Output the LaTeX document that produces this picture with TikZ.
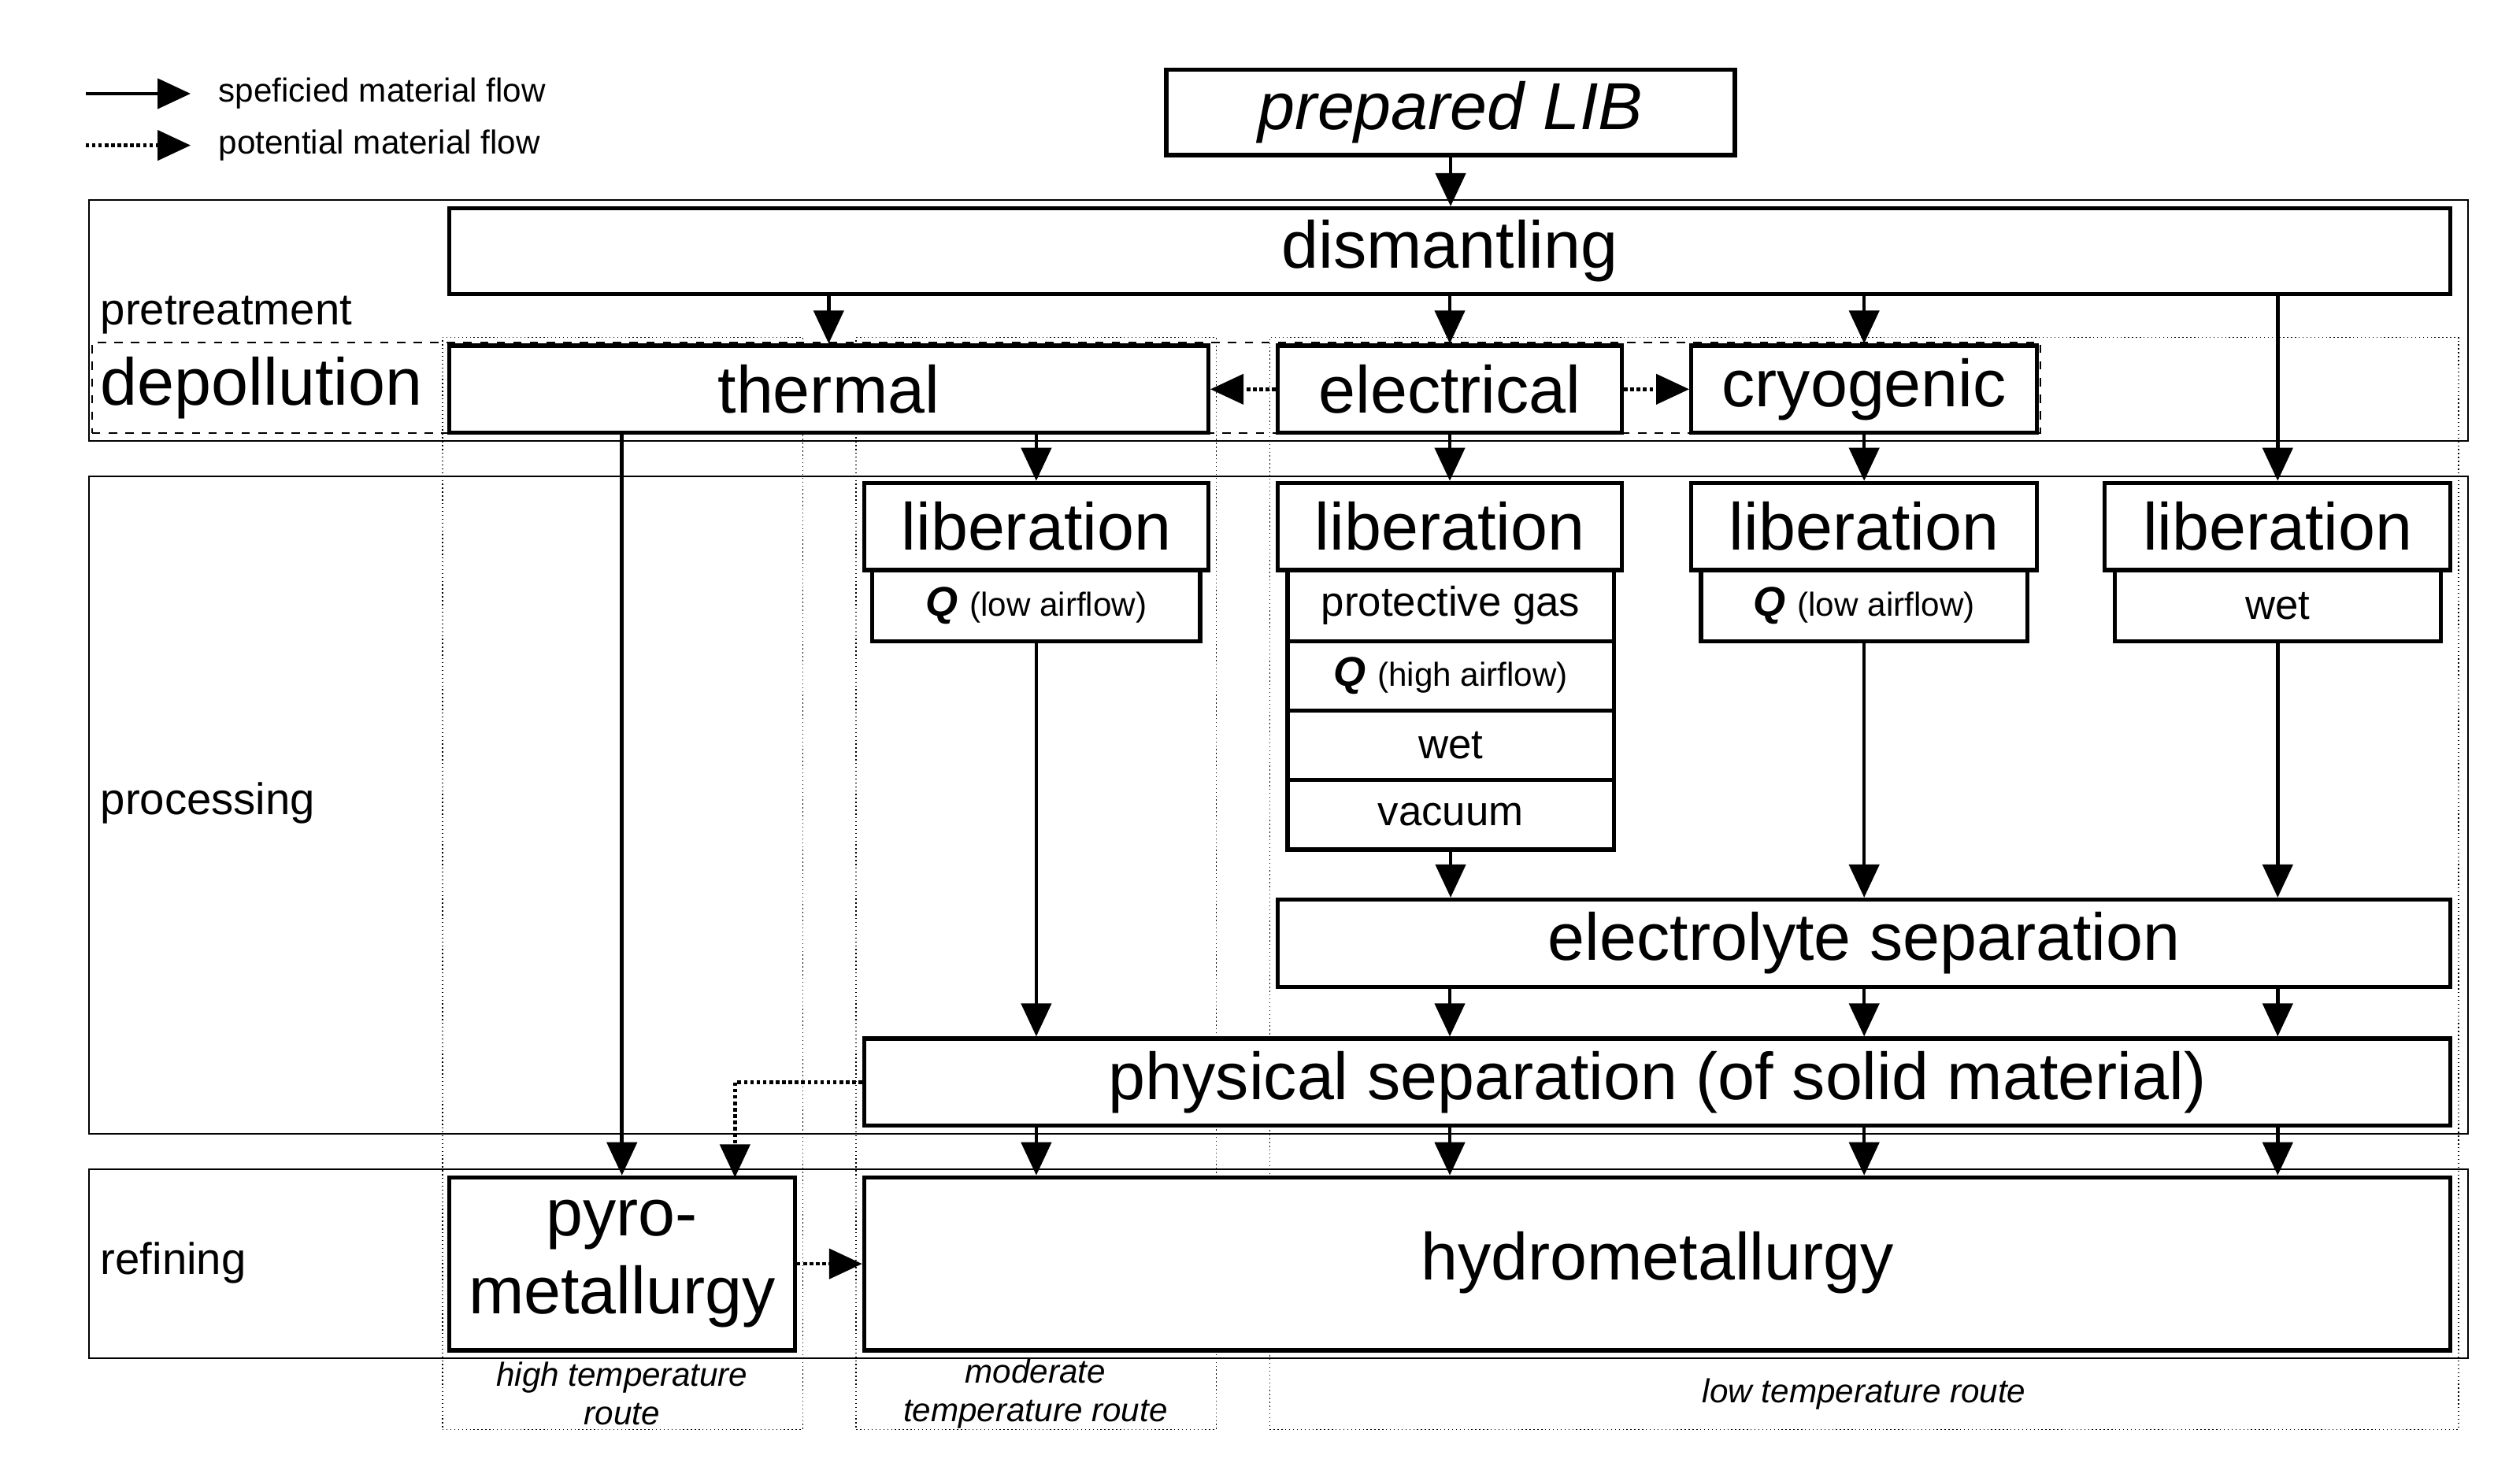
\documentclass[tikz,border=0pt]{standalone}
\usepackage{fontspec}
\setmainfont{Liberation Sans}
\usetikzlibrary{arrows.meta}
\begin{document}
\begin{tikzpicture}[x=0.0205cm,y=-0.0205cm,
  box/.style={draw,line width=1.5pt,fill=white,inner sep=0pt,font=\fontsize{24}{26}\selectfont},
  sub/.style={box,font=\fontsize{15}{17}\selectfont},
  region/.style={draw,line width=0.6pt,inner sep=0pt},
  route/.style={draw,densely dotted,line width=0.4pt,inner sep=0pt},
  lbl/.style={anchor=west,inner sep=0pt,font=\fontsize{16}{18}\selectfont},
  rlbl/.style={inner sep=0pt,align=center,font=\fontsize{12}{14}\selectfont\itshape},
  arr/.style={line width=1.3pt,-{Triangle[length=0.42cm,width=0.38cm]}},
  parr/.style={arr,densely dotted}]
\newcommand\mybox[7]{\node[#2,minimum width={(#5-#3)*0.0205cm},minimum height={(#6-#4)*0.0205cm}] (#1) at ({(#3+#5)/2},{(#4+#6)/2}) {#7};}
\useasboundingbox (0,0) rectangle (1560,903);
% regions
\mybox{pre}{region}{55}{124}{1528}{273}{}
\mybox{proc}{region}{55}{295}{1528}{702}{}
\mybox{ref}{region}{55}{724}{1528}{841}{}
\mybox{dep}{region,dashed}{57}{212}{1263}{268}{}
\mybox{rHigh}{route}{274}{209}{497}{885}{}
\mybox{rMod}{route}{530}{209}{753}{885}{}
\mybox{rLow}{route}{786}{209}{1522}{885}{}
\node[lbl] (tPre) at (62,195) {pretreatment};
\node[lbl,font=\fontsize{24}{26}\selectfont] (tDep) at (62,240) {depollution};
\node[lbl] (tProc) at (62,497) {processing};
\node[lbl] (tRef) at (62,782) {refining};
\node[rlbl] (lHigh) at (385,863) {high temperature\\route};
\node[rlbl] (lMod) at (641,863) {moderate\\temperature route};
\node[rlbl] (lLow) at (1154,863) {low temperature route};
% legend
\coordinate (l1a) at (53,58); \coordinate (l1b) at (118,58);
\coordinate (l2a) at (53,90); \coordinate (l2b) at (118,90);
\draw[arr] (l1a) -- (l1b);
\draw[parr] (l2a) -- (l2b);
\node[anchor=west,inner sep=0pt,font=\fontsize{12}{14}\selectfont] (leg1) at (135,58) {speficied material flow};
\node[anchor=west,inner sep=0pt,font=\fontsize{12}{14}\selectfont] (leg2) at (135,90) {potential material flow};
% boxes
\mybox{lib}{box,font=\fontsize{24}{26}\selectfont\itshape}{722}{43}{1074}{96}{prepared LIB}
\mybox{dism}{box}{278}{129}{1517}{182}{dismantling}
\mybox{therm}{box}{278}{214}{748}{268}{thermal}
\mybox{elec}{box}{791}{214}{1004}{268}{electrical}
\mybox{cryo}{box}{1047}{214}{1261}{268}{cryogenic}
\mybox{lib1}{box}{535}{299}{748}{353}{liberation}
\mybox{lib1q}{sub}{540}{353}{743}{397}{\textbf{\itshape Q} {\fontsize{12}{14}\selectfont(low airflow)}}
\mybox{lib2}{box}{791}{299}{1004}{353}{liberation}
\mybox{lib2a}{sub}{797}{353}{999}{397}{protective gas}
\mybox{lib2b}{sub}{797}{397}{999}{440}{\textbf{\itshape Q} {\fontsize{12}{14}\selectfont(high airflow)}}
\mybox{lib2c}{sub}{797}{440}{999}{483}{wet}
\mybox{lib2d}{sub}{797}{483}{999}{526}{vacuum}
\mybox{lib3}{box}{1047}{299}{1261}{353}{liberation}
\mybox{lib3q}{sub}{1053}{353}{1255}{397}{\textbf{\itshape Q} {\fontsize{12}{14}\selectfont(low airflow)}}
\mybox{lib4}{box}{1303}{299}{1517}{353}{liberation}
\mybox{lib4w}{sub}{1309}{353}{1511}{397}{wet}
\mybox{elsep}{box}{791}{557}{1517}{611}{electrolyte separation}
\mybox{phys}{box}{535}{643}{1517}{697}{physical separation (of solid material)}
\mybox{pyro}{box,align=center,font=\fontsize{24}{28}\selectfont}{278}{729}{492}{836}{pyro-\\metallurgy}
\mybox{hydro}{box}{535}{729}{1517}{836}{}
\node[font=\fontsize{24}{26}\selectfont,inner sep=0pt] (hydroT) at (1026,782) {hydrometallurgy};
% arrows
\draw[arr] (lib.south) -- (dism.north -| lib.south);
\draw[arr] (dism.south -| therm.north) -- (therm.north);
\draw[arr] (dism.south -| elec.north) -- (elec.north);
\draw[arr] (dism.south -| cryo.north) -- (cryo.north);
\draw[arr] (dism.south -| lib4.north) -- (lib4.north);
\draw[parr] (elec.west) -- (therm.east);
\draw[parr] (elec.east) -- (cryo.west);
\draw[arr] (therm.south -| pyro.north) -- (pyro.north);
\draw[arr] (therm.south -| lib1.north) -- (lib1.north);
\draw[arr] (elec.south) -- (lib2.north);
\draw[arr] (cryo.south) -- (lib3.north);
\draw[arr] (lib1q.south) -- (lib1q.south |- phys.north);
\draw[arr] (lib2d.south) -- (lib2d.south |- elsep.north);
\draw[arr] (lib3q.south) -- (lib3q.south |- elsep.north);
\draw[arr] (lib4w.south) -- (lib4w.south |- elsep.north);
\draw[arr] (elsep.south -| lib2.south) -- (phys.north -| lib2.south);
\draw[arr] (elsep.south -| lib3.south) -- (phys.north -| lib3.south);
\draw[arr] (elsep.south -| lib4.south) -- (phys.north -| lib4.south);
\draw[arr] (phys.south -| lib1.south) -- (hydro.north -| lib1.south);
\draw[arr] (phys.south -| lib2.south) -- (hydro.north -| lib2.south);
\draw[arr] (phys.south -| lib3.south) -- (hydro.north -| lib3.south);
\draw[arr] (phys.south -| lib4.south) -- (hydro.north -| lib4.south);
\coordinate (pd) at (455,729);
\draw[parr] (phys.west) -| (pd);
\draw[parr] (pyro.east) -- (hydro.west);
\end{tikzpicture}
\end{document}
